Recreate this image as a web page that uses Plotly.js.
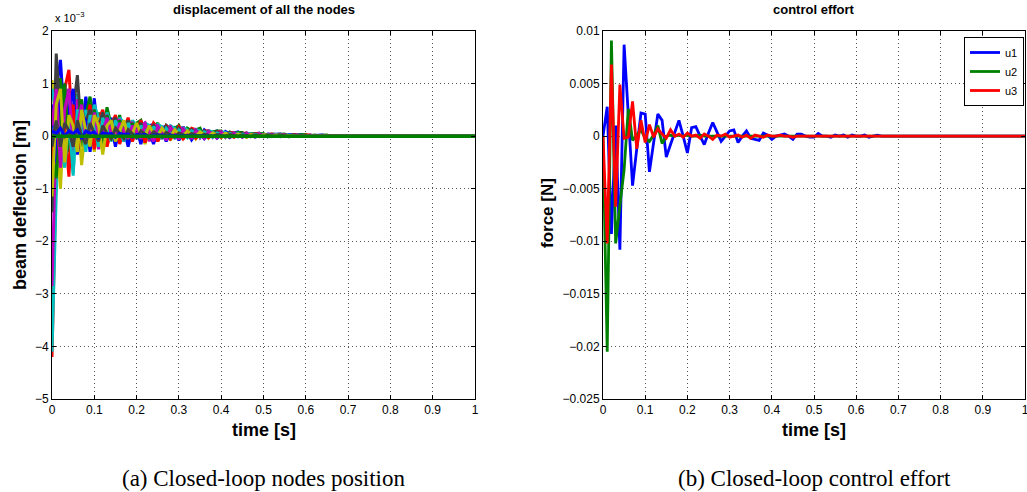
<!DOCTYPE html>
<html><head><meta charset="utf-8">
<script src="https://cdn.plot.ly/plotly-3.0.1.min.js"></script>
<style>html,body{margin:0;padding:0;background:#fff;}#chart{width:1027px;height:492px;}</style>
</head><body><div id="chart"></div>
<script>
// time samples [s]
const time = [0,0.01,0.02,0.03,0.04,0.05,0.06,0.07,0.08,0.09,
0.1,0.11,0.12,0.13,0.14,0.15,0.16,0.17,0.18,0.19,
0.2,0.21,0.22,0.23,0.24,0.25,0.26,0.27,0.28,0.29,
0.3,0.31,0.32,0.33,0.34,0.35,0.36,0.37,0.38,0.39,
0.4,0.41,0.42,0.43,0.44,0.45,0.46,0.47,0.48,0.49,
0.5,0.51,0.52,0.53,0.54,0.55,0.56,0.57,0.58,0.59,
0.6,0.61,0.62,0.63,0.64,0.65,0.66,0.67,0.68,0.69,
0.7,1.0];
const timeEnds = [0, 1];

// node displacements, in units of 1e-3 m
const node1 = [0.3,0.9,1.45,0.2,0.6,-0.3,0.4,0.1,0.75,0.0,0.72,-0.1,0.3,0.1,0.35,-0.05,0.2,0.25,0.0,0.3,-0.05,0.25,0.05,0.2,0.22,-0.05,0.15,0.2,0.0,0.15,0.05,0.18,0.0,0.12,0.1,-0.02,0.12,0.05,0.08,0.1,-0.02,0.09,0.04,0.06,0.08,0.0,0.06,0.03,0.05,0.06,0.0,0.04,0.03,0.03,0.04,0.0,0.03,0.02,0.02,0.03,0.0,0.02,0.01,0.02,0.02,0.0,0.01,0.01,0.01,0.01,0.0,0];
const node2 = [-0.85,0.5,1.1,0.3,0.9,0.0,0.6,-0.2,0.4,0.75,0.1,0.45,-0.1,0.55,0.2,0.1,0.4,-0.05,0.3,0.1,0.25,0.3,0.0,0.2,0.15,0.25,-0.05,0.2,0.12,0.15,0.2,-0.05,0.15,0.1,0.12,0.15,-0.03,0.1,0.08,0.1,0.1,-0.02,0.08,0.05,0.07,0.07,-0.02,0.05,0.04,0.05,0.05,-0.01,0.04,0.03,0.03,0.04,-0.01,0.03,0.02,0.02,0.03,0.0,0.02,0.01,0.01,0.02,0.0,0.01,0.01,0.01,0.0,0];
const node3 = [-4.2,-0.6,0.4,0.9,1.26,-0.1,0.5,0.3,0.2,0.6,-0.1,0.3,0.5,0.1,0.2,0.4,0.0,0.15,0.35,0.05,0.1,0.3,0.1,0.05,0.25,0.15,0.0,0.2,0.15,0.0,0.18,0.1,0.02,0.15,0.12,0.0,0.1,0.1,0.0,0.08,0.09,0.0,0.06,0.07,0.0,0.05,0.06,0.0,0.04,0.05,0.0,0.03,0.04,0.0,0.03,0.03,0.0,0.02,0.02,0.0,0.02,0.02,0.0,0.01,0.01,0.0,0.01,0.01,0.0,0.0,0.0,0];
const node4 = [-4.1,-1.1,0.9,-0.2,0.7,-0.75,0.8,0.2,0.5,-0.1,0.6,0.35,0.1,0.45,0.2,0.0,0.35,0.25,-0.05,0.3,0.2,0.0,0.25,0.2,0.05,0.22,0.18,0.0,0.2,0.15,0.02,0.16,0.12,0.0,0.13,0.1,0.0,0.1,0.08,0.0,0.08,0.07,0.0,0.06,0.05,0.0,0.05,0.04,0.0,0.04,0.03,0.0,0.03,0.03,0.0,0.02,0.02,0.0,0.02,0.01,0.0,0.01,0.01,0.0,0.01,0.0,0.0,0.0,0.0,0.0,0.0,0];
const node5 = [-2.85,0.2,-0.5,1.0,0.3,-0.4,0.7,0.5,-0.2,0.4,0.5,-0.25,0.3,0.4,0.0,0.3,0.3,-0.1,0.25,0.25,-0.05,0.2,0.25,-0.1,0.2,0.2,-0.05,0.15,0.18,-0.05,0.12,0.15,-0.03,0.1,0.12,-0.03,0.08,0.1,-0.02,0.07,0.08,-0.02,0.05,0.06,-0.01,0.04,0.05,-0.01,0.03,0.04,-0.01,0.03,0.03,0.0,0.02,0.02,0.0,0.02,0.02,0.0,0.01,0.01,0.0,0.01,0.01,0.0,0.0,0.0,0.0,0.0,0.0,0];
const node6 = [1.07,0.2,-1.0,0.6,-0.4,0.3,0.5,-0.55,0.2,0.3,-0.3,0.35,0.1,-0.2,0.3,0.05,-0.1,0.25,0.1,-0.1,0.2,0.1,-0.15,0.15,0.12,-0.1,0.12,0.1,-0.08,0.1,0.08,-0.06,0.08,0.07,-0.05,0.06,0.06,-0.04,0.05,0.05,-0.03,0.04,0.04,-0.02,0.03,0.03,-0.02,0.02,0.02,-0.01,0.02,0.02,-0.01,0.01,0.01,0.0,0.01,0.01,0.0,0.0,0.0,0.0,0.0,0.0,0.0,0.0,0.0,0.0,0.0,0.0,0.0,0];
const node7 = [-1.45,1.57,0.3,0.8,-0.2,0.5,1.16,0.0,0.3,0.5,0.0,0.2,0.45,-0.1,0.2,0.35,0.0,0.1,0.3,0.05,0.1,0.25,0.0,0.1,0.2,0.05,0.05,0.18,0.05,0.02,0.15,0.05,0.0,0.12,0.05,0.0,0.1,0.04,0.0,0.08,0.04,0.0,0.06,0.03,0.0,0.05,0.03,0.0,0.04,0.02,0.0,0.03,0.02,0.0,0.02,0.01,0.0,0.02,0.01,0.0,0.01,0.01,0.0,0.01,0.0,0.0,0.0,0.0,0.0,0.0,0.0,0];
const node8 = [0.6,-0.5,0.8,-0.3,0.5,0.9,-0.35,0.4,0.3,-0.3,0.3,0.25,-0.25,0.25,0.2,-0.2,0.2,0.15,-0.2,0.15,0.15,-0.15,0.12,0.1,-0.15,0.1,0.1,-0.1,0.08,0.08,-0.08,0.06,0.07,-0.07,0.05,0.05,-0.05,0.04,0.04,-0.04,0.03,0.03,-0.03,0.02,0.02,-0.02,0.02,0.02,-0.02,0.01,0.01,-0.01,0.01,0.01,-0.01,0.01,0.0,0.0,0.0,0.0,0.0,0.0,0.0,0.0,0.0,0.0,0.0,0.0,0.0,0.0,0.0,0];
const node9 = [-0.3,-0.8,0.3,1.0,-0.3,0.4,0.2,0.7,-0.2,0.2,0.5,0.05,-0.15,0.4,0.1,0.0,0.3,0.05,-0.05,0.25,0.05,-0.05,0.2,0.1,-0.05,0.15,0.1,-0.05,0.15,0.08,-0.03,0.12,0.06,-0.03,0.1,0.05,-0.02,0.08,0.04,-0.02,0.06,0.03,-0.02,0.05,0.03,-0.01,0.04,0.02,-0.01,0.03,0.02,0.0,0.02,0.01,0.0,0.02,0.01,0.0,0.01,0.01,0.0,0.01,0.0,0.0,0.0,0.0,0.0,0.0,0.0,0.0,0.0,0];
const node10 = [-0.5,0.3,-0.4,0.2,-0.77,0.6,-0.3,0.3,-0.2,0.35,-0.25,0.2,0.3,-0.2,0.1,0.25,-0.15,0.1,0.2,-0.1,0.1,0.15,-0.12,0.1,0.12,-0.1,0.05,0.12,-0.05,0.05,0.1,-0.05,0.05,0.08,-0.04,0.04,0.06,-0.03,0.03,0.05,-0.02,0.03,0.04,-0.02,0.02,0.03,-0.01,0.02,0.02,-0.01,0.01,0.02,0.0,0.01,0.01,0.0,0.01,0.01,0.0,0.0,0.0,0.0,0.0,0.0,0.0,0.0,0.0,0.0,0.0,0.0,0.0,0];
const node11 = [0.9,0.4,0.0,-0.6,0.3,-0.7,0.5,0.3,-0.3,0.4,0.2,-0.2,0.35,0.15,-0.1,0.3,0.1,-0.1,0.25,0.1,-0.05,0.2,0.1,-0.05,0.18,0.08,-0.05,0.15,0.06,-0.03,0.12,0.05,-0.03,0.1,0.05,-0.02,0.08,0.04,-0.02,0.06,0.03,-0.01,0.05,0.03,-0.01,0.04,0.02,0.0,0.03,0.02,0.0,0.02,0.01,0.0,0.02,0.01,0.0,0.01,0.01,0.0,0.01,0.0,0.0,0.0,0.0,0.0,0.0,0.0,0.0,0.0,0.0,0];
const node12 = [0.2,0.9,-0.6,0.5,0.9,-0.2,0.2,0.6,-0.1,0.1,0.45,0.0,0.05,0.35,0.05,0.0,0.25,0.1,-0.05,0.2,0.1,-0.05,0.22,0.1,-0.1,0.18,0.12,-0.08,0.15,0.1,-0.06,0.12,0.08,-0.05,0.1,0.06,-0.04,0.08,0.05,-0.03,0.06,0.04,-0.02,0.05,0.03,-0.02,0.04,0.03,-0.01,0.03,0.02,-0.01,0.02,0.02,0.0,0.02,0.01,0.0,0.01,0.01,0.0,0.0,0.0,0.0,0.0,0.0,0.0,0.0,0.0,0.0,0.0,0];
const node13 = [-1.15,0.6,0.9,-0.5,0.4,0.2,-0.3,0.5,0.1,-0.2,0.4,0.2,-0.35,0.2,0.3,-0.1,0.1,0.3,0.0,0.05,0.25,0.05,0.0,0.2,0.05,0.0,0.15,0.05,0.0,0.12,0.04,0.0,0.1,0.03,0.0,0.08,0.03,0.0,0.06,0.02,0.0,0.05,0.02,0.0,0.04,0.01,0.0,0.03,0.01,0.0,0.02,0.01,0.0,0.02,0.0,0.0,0.01,0.0,0.0,0.01,0.0,0.0,0.0,0.0,0.0,0.0,0.0,0.0,0.0,0.0,0.0,0];
const node14 = [-0.2,0.3,-0.2,0.25,0.1,-0.2,0.3,0.0,-0.15,0.25,0.05,-0.1,0.2,0.05,-0.05,0.15,0.05,-0.05,0.12,0.05,-0.03,0.1,0.04,-0.03,0.08,0.03,-0.02,0.07,0.03,-0.02,0.06,0.02,-0.01,0.05,0.02,-0.01,0.04,0.02,-0.01,0.03,0.01,0.0,0.03,0.01,0.0,0.02,0.01,0.0,0.02,0.01,0.0,0.01,0.0,0.0,0.01,0.0,0.0,0.0,0.0,0.0,0.0,0.0,0.0,0.0,0.0,0.0,0.0,0.0,0.0,0.0,0.0,0];
const node15 = [0.1,0.05,0.15,0.0,0.1,0.05,0.12,-0.05,0.1,0.05,0.08,-0.03,0.06,0.04,0.05,-0.02,0.05,0.03,0.04,-0.02,0.03,0.02,0.03,-0.01,0.02,0.02,0.02,0.0,0.02,0.01,0.01,0.0,0.01,0.01,0.01,0.0,0.01,0.0,0.0,0.0,0.0,0];
const node16 = [0, 0];

// control inputs [N]
const u1 = [0,0.0028,-0.0093,0.001,-0.0108,0.0087,0.002,-0.0047,-0.0012,0.0022,
0.0021,-0.0034,-0.0006,0.0021,0.0015,-0.002,-0.0008,0.0004,0.0015,0.0,
-0.0016,0.0008,0.0009,0.0,-0.0008,0.0003,0.0013,0.0004,-0.0005,0.0,
0.0005,0.0006,-0.0006,0.0,0.0005,-0.0002,-0.0003,-0.0004,0.0003,0.0001,
-0.0003,0.0,0.0001,0.0002,0.0,-0.0003,0.0002,0.0002,0.0,-0.0001,
-0.0001,0.00025,0.0,0.0,-0.0001,0.0001,0.0,0.0001,-0.0001,0.0001,
0.0,0.0,0.0001,-0.0001,0.0,0.0001,0.0,0.0,0.0,0.0,
0.0,0.0];
const u2 = [0,-0.0205,0.0091,-0.0102,-0.0066,-0.0032,0.0026,-0.0004,0.0001,0.0006,
-0.0002,-0.0005,0.0001,0.001,-0.0007,0.0,0.0001,0.0,0.0001,0.0,
0.0001,0.0,0.0,0.0001,0.0,0.0,0.0,0.0,0.0,0.0,
0,0,0,0,0,0,0,0,0,0,
0,0,0,0,0,0,0,0,0,0,
0,0,0,0,0,0,0,0,0,0,
0,0,0,0,0,0,0,0,0,0,
0,0];
const u3 = [0,-0.0102,0.0068,-0.0067,0.0049,-0.0002,-0.0001,0.0033,-0.0012,0.0015,
-0.0006,0.0011,-0.0001,0.0007,0.0002,-0.0002,0.0006,0.0,0.0002,-0.0001,
0.0003,0.0,0.0001,-0.0002,0.0002,0.0,-0.0003,0.0001,0.0,0.0002,
-0.0001,0.0,0.0001,-0.0001,0.0001,-0.0002,0.0001,0.0,-0.0001,0.0001,
0.0,0.0,0.0001,0.0,0.0,-0.0001,0.0,0.0,0.0,0.0,
0,0,0,0,0,0,0,0,0,0,
0,0,0,0,0,0,0,0,0,0,
0,0];

const xTickVals = [0,0.1,0.2,0.3,0.4,0.5,0.6,0.7,0.8,0.9,1];
const xTickText = ['0','0.1','0.2','0.3','0.4','0.5','0.6','0.7','0.8','0.9','1'];
const y1TickVals = [-5,-4,-3,-2,-1,0,1,2];
const y1TickText = ['\u22125','\u22124','\u22123','\u22122','\u22121','0','1','2'];
const y2TickVals = [-0.025,-0.02,-0.015,-0.01,-0.005,0,0.005,0.01];
const y2TickText = ['\u22120.025','\u22120.02','\u22120.015','\u22120.01','\u22120.005','0','0.005','0.01'];

const nodeSeries = [node1,node2,node3,node4,node5,node6,node7,node8,node9,node10,node11,node12,node13,node14,node15];
const nodeColors = ['#0000ff','#008000','#ff0000','#00bfbf','#bf00bf','#bfbf00','#404040',
                    '#0000ff','#008000','#ff0000','#00bfbf','#bf00bf','#bfbf00','#404040','#0000ff'];

const traces = [];
nodeSeries.forEach((s, i) => {
  traces.push({x: time, y: s, xaxis: 'x', yaxis: 'y', type: 'scatter', mode: 'lines',
    line: {color: nodeColors[i], width: 3}, showlegend: false, hoverinfo: 'skip'});
});
traces.push({x: timeEnds, y: node16, xaxis: 'x', yaxis: 'y', type: 'scatter', mode: 'lines',
  line: {color: '#008000', width: 3.5}, showlegend: false, hoverinfo: 'skip'});

const uNames = ['u1','u2','u3'];
const uData = [u1, u2, u3];
const uColors = ['#0000ff','#008000','#ff0000'];
uData.forEach((s, i) => {
  traces.push({x: time, y: s, xaxis: 'x2', yaxis: 'y2', type: 'scatter', mode: 'lines',
    name: uNames[i], line: {color: uColors[i], width: 2.8}});
});

const FONT = 'Liberation Sans, Arial, sans-serif';
const axBase = {
  showline: true, linecolor: '#000', linewidth: 1, mirror: 'ticks',
  ticks: 'inside', ticklen: 4, tickcolor: '#000', tickwidth: 1,
  showgrid: true, gridcolor: '#555', griddash: '1px,3px', gridwidth: 1,
  zeroline: false, ticklabeloverflow: 'allow',
  tickfont: {family: FONT, size: 12, color: '#000'}
};
const W = 1027, H = 492;
const px = v => v / W, py = v => 1 - v / H;
const ann = (text, x, y, size, extra) => Object.assign({text: text, x: px(x), y: py(y),
  xref: 'paper', yref: 'paper', xanchor: 'center', yanchor: 'middle', showarrow: false,
  font: {size: size, family: FONT, color: '#000'}}, extra || {});

const layout = {
  width: W, height: H, margin: {l: 0, r: 0, t: 0, b: 0},
  paper_bgcolor: '#fff', plot_bgcolor: '#fff',
  font: {family: FONT, color: '#000'},
  xaxis: Object.assign({}, axBase, {domain: [px(52), px(475)], range: [0, 1],
    tickvals: xTickVals, ticktext: xTickText, anchor: 'y'}),
  yaxis: Object.assign({}, axBase, {domain: [py(399), py(31)], range: [-5, 2],
    tickvals: y1TickVals, ticktext: y1TickText, anchor: 'x'}),
  xaxis2: Object.assign({}, axBase, {domain: [px(603), px(1025)], range: [0, 1],
    tickvals: xTickVals, ticktext: xTickText, anchor: 'y2'}),
  yaxis2: Object.assign({}, axBase, {domain: [py(399), py(31)], range: [-0.025, 0.01],
    tickvals: y2TickVals, ticktext: y2TickText, anchor: 'x2'}),
  showlegend: true,
  legend: {x: px(1024), y: py(37), xanchor: 'right', yanchor: 'top', bgcolor: '#fff',
    bordercolor: '#000', borderwidth: 1, font: {family: FONT, size: 11}, tracegroupgap: 0,
    itemwidth: 30},
  annotations: [
    ann('<b>displacement of all the nodes</b>', 263.5, 10, 13),
    ann('<b>control effort</b>', 814, 10, 13),
    ann('x 10<sup>\u22123</sup>', 53, 17, 11, {xanchor: 'left'}),
    ann('<b>time [s]</b>', 263.5, 430, 18),
    ann('<b>time [s]</b>', 814, 430, 18),
    ann('<b>beam deflection [m]</b>', 20, 205, 18, {textangle: -90}),
    ann('<b>force [N]</b>', 548, 213, 17, {textangle: -90}),
    ann('(a) Closed-loop nodes position', 263.5, 478, 23, {font: {family: 'Liberation Serif, Times New Roman, serif', size: 23, color: '#000'}}),
    ann('(b) Closed-loop control effort', 814, 478, 23, {font: {family: 'Liberation Serif, Times New Roman, serif', size: 23, color: '#000'}})
  ]
};

Plotly.newPlot('chart', traces, layout, {displayModeBar: false, staticPlot: true});
</script>
</body></html>
